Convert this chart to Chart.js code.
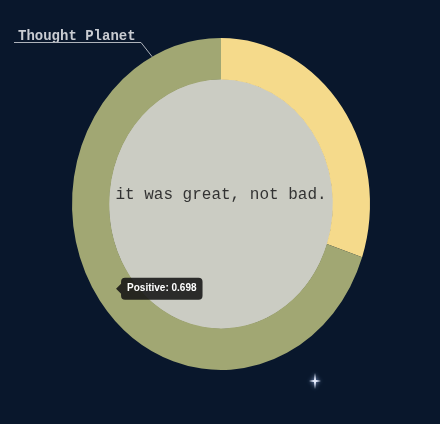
<!DOCTYPE html>
<html><head><meta charset="utf-8">
<script src="https://cdn.jsdelivr.net/npm/chart.js@4"></script>
<style>html,body{margin:0;padding:0;background:#09172c;overflow:hidden}#wrap{width:440px;height:424px;position:relative}</style>
</head><body><div id="wrap"><canvas id="c"></canvas></div>
<script>
const categories = ['Negative', 'Positive'];
const sentimentValues = [0.302, 0.698];
const titleText = 'Thought Planet';
const centerText = 'it was great, not bad.';
const sliceColors = ['#f5da8b', '#a1a773'];
const Y_STRETCH = 166 / 149;

function stretch(ctx, cx, cy) {
  ctx.translate(cx, cy); ctx.scale(1, Y_STRETCH); ctx.translate(-cx, -cy);
}

const ellipsePlugin = {
  id: 'ellipse',
  beforeDatasetsDraw(chart) {
    const ctx = chart.ctx;
    const arc = chart.getDatasetMeta(0).data[0];
    ctx.save();
    stretch(ctx, arc.x, arc.y);
    ctx.beginPath();
    ctx.arc(arc.x, arc.y, arc.innerRadius + 0.5, 0, Math.PI * 2);
    ctx.fillStyle = '#cbccc3';
    ctx.fill();
  },
  afterDatasetsDraw(chart) {
    const ctx = chart.ctx;
    ctx.restore();
    const arc = chart.getDatasetMeta(0).data[0];
    // center text
    ctx.save();
    ctx.font = '16px "Liberation Mono", "Courier New", monospace';
    ctx.fillStyle = '#333333';
    ctx.textAlign = 'center';
    ctx.textBaseline = 'middle';
    ctx.fillText(centerText, arc.x, arc.y - 9);
    ctx.restore();
    // title label with leader line
    const outerTopLeftAngle = -Math.PI / 2 - 0.48;
    const ex = arc.x + arc.outerRadius * Math.cos(outerTopLeftAngle);
    const ey = arc.y + arc.outerRadius * Math.sin(outerTopLeftAngle) * Y_STRETCH;
    ctx.save();
    ctx.font = 'bold 14px "Liberation Mono", "Courier New", monospace';
    ctx.fillStyle = '#c9ccd2';
    ctx.textAlign = 'left';
    ctx.textBaseline = 'alphabetic';
    ctx.fillText(titleText, 18, 40);
    ctx.strokeStyle = '#aeb3bb';
    ctx.lineWidth = 1;
    ctx.beginPath();
    ctx.moveTo(14, 42.5);
    ctx.lineTo(141, 42.5);
    ctx.lineTo(ex, ey);
    ctx.stroke();
    // sparkle
    const sx = 315, sy = 381;
    ctx.shadowColor = 'rgba(170,200,255,0.9)';
    ctx.shadowBlur = 4;
    ctx.fillStyle = '#e8eeff';
    ctx.beginPath();
    ctx.moveTo(sx, sy - 8);
    ctx.lineTo(sx + 1, sy - 1);
    ctx.lineTo(sx + 6, sy);
    ctx.lineTo(sx + 1, sy + 1);
    ctx.lineTo(sx, sy + 8);
    ctx.lineTo(sx - 1, sy + 1);
    ctx.lineTo(sx - 6, sy);
    ctx.lineTo(sx - 1, sy - 1);
    ctx.closePath();
    ctx.fill();
    ctx.restore();
  }
};

Chart.Tooltip.positioners.ellipse = function (items) {
  if (!items.length) return false;
  const el = items[0].element;
  const p = el.tooltipPosition();
  return { x: p.x, y: el.y + (p.y - el.y) * Y_STRETCH };
};

const chart = new Chart(document.getElementById('c'), {
  type: 'doughnut',
  data: {
    labels: categories,
    datasets: [{
      data: sentimentValues,
      backgroundColor: sliceColors,
      borderWidth: 0,
      hoverOffset: 0,
      clip: false
    }]
  },
  options: {
    responsive: true,
    maintainAspectRatio: false,
    animation: false,
    events: [],
    cutout: '75%',
    layout: { padding: { left: 72, right: 70, top: 55, bottom: 71 } },
    plugins: {
      legend: { display: false },
      tooltip: {
        position: 'ellipse',
        xAlign: 'left',
        yAlign: 'center',
        displayColors: false,
        backgroundColor: 'rgba(20,20,20,0.88)',
        bodyColor: '#ffffff',
        bodyFont: { family: '"Liberation Sans", Arial, sans-serif', size: 10, weight: 'bold' },
        padding: { x: 6, y: 5 },
        cornerRadius: 4,
        caretSize: 5,
        caretPadding: 1,
        callbacks: {
          title: () => '',
          label: (ctx) => ctx.label + ': ' + ctx.formattedValue
        }
      }
    }
  },
  plugins: [ellipsePlugin]
});
chart.tooltip.setActiveElements([{ datasetIndex: 0, index: 1 }], { x: 0, y: 0 });
chart.update();
</script></body></html>
